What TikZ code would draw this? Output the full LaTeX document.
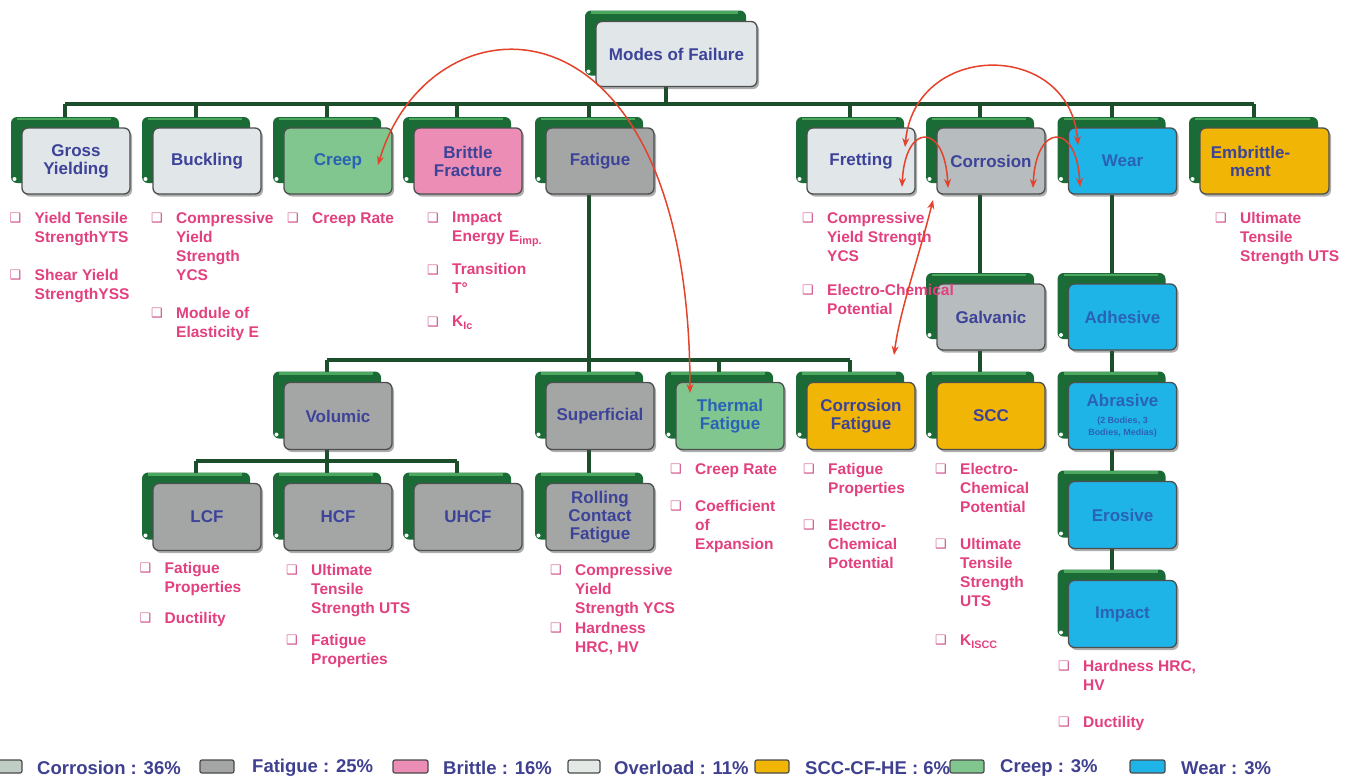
\documentclass[tikz,border=0pt]{standalone}
\usepackage{fontspec}
\setmainfont{Liberation Sans}
\newfontfamily\dejavu{DejaVu Sans}
\usetikzlibrary{arrows.meta,shadows}
\definecolor{backg}{HTML}{1A6B36}
\definecolor{backhi}{HTML}{4CA85E}
\definecolor{boxedge}{HTML}{4D4F4F}
\definecolor{lightbox}{HTML}{E1E6E9}
\definecolor{corrbox}{HTML}{B7BCBF}
\definecolor{fatbox}{HTML}{A4A6A6}
\definecolor{pinkbox}{HTML}{EC8DB6}
\definecolor{greenbox}{HTML}{80C68E}
\definecolor{cyanbox}{HTML}{1FB4E8}
\definecolor{yellowbox}{HTML}{F1B505}
\definecolor{labelblue}{HTML}{3C4399}
\definecolor{cyanlabel}{HTML}{2A62B6}
\definecolor{conngreen}{HTML}{1C4E2B}
\definecolor{bultext}{HTML}{E2407E}
\definecolor{bulbox}{HTML}{D0508A}
\definecolor{arrred}{HTML}{E4422B}
\definecolor{legtext}{HTML}{3F4190}
\definecolor{swedge}{HTML}{4A4A4A}
\definecolor{corrsw}{HTML}{BFCDC4}
\definecolor{lightsw}{HTML}{E3EAE6}
\pgfdeclarelayer{paper}
\pgfdeclarelayer{bg}
\pgfsetlayers{paper,bg,main}
\tikzset{
  mb/.style={draw=boxedge, line width=1.3pt, rounded corners=6pt, inner sep=2pt,
    align=center, font=\fontsize{17}{18}\selectfont\bfseries, text=labelblue,
    drop shadow={shadow xshift=2pt, shadow yshift=-2.5pt, opacity=0.45, fill=black!70}},
  conn/.style={draw=conngreen, line width=4pt},
  redarr/.style={draw=arrred, line width=1.5pt,
    {Stealth[length=9pt,width=7pt]}-{Stealth[length=9pt,width=7pt]}},
  bl/.style={anchor=north west, inner sep=0pt, align=left, text=bultext,
    font=\fontsize{15.5}{19}\selectfont\bfseries},
  leg/.style={anchor=west, inner sep=0pt, text=legtext,
    font=\fontsize{18.5}{20}\selectfont\bfseries},
  sw/.style={draw=swedge, line width=1.2pt, rounded corners=2pt},
}
% name, cx, cy, w, h, fill, label
\newcommand{\modebx}[7]{%
  \fill[backg, rounded corners=6pt] ({#2-#4/2-11},{#3-#5/2-11}) rectangle ({#2+#4/2-11},{#3+#5/2-11});
  \draw[backhi, line width=2.5pt] ({#2-#4/2-5},{#3-#5/2-9}) -- ({#2+#4/2-19},{#3-#5/2-9});
  \fill[white] ({#2-#4/2-7.5},{#3+#5/2-15}) circle (2pt);
  \node[mb, fill=#6, minimum width=#4pt, minimum height=#5pt] (#1) at (#2,#3) {#7};
}
\newcommand{\bi}{\makebox[25pt][l]{\raisebox{0.5pt}{\dejavu\fontsize{13}{13}\selectfont\color{bulbox}❑}}}
\newcommand{\ci}{\hspace*{25pt}}
\newcommand{\smalltx}{\fontsize{9}{10}\selectfont}
\begin{document}
\begin{tikzpicture}[x=1pt,y=-1pt]
\useasboundingbox (0,0) rectangle (1350,782);
\begin{pgfonlayer}{paper}
\fill[white] (0,0) rectangle (1350,782);
\end{pgfonlayer}

% ---------- boxes ----------
\modebx{mof}{676.5}{54}{161}{65}{lightbox}{Modes of Failure}
\modebx{gy}{76}{161}{108}{66}{lightbox}{Gross\\Yielding}
\modebx{buck}{207}{161}{108}{66}{lightbox}{Buckling}
\modebx{creep}{338}{161}{108}{66}{greenbox, text=cyanlabel}{Creep}
\modebx{brit}{468}{161}{108}{66}{pinkbox}{Brittle\\Fracture}
\modebx{fat}{600}{161}{108}{66}{fatbox}{Fatigue}
\modebx{fret}{861}{161}{108}{66}{lightbox}{Fretting}
\modebx{corr}{991}{161}{108}{66}{corrbox}{Corrosion}
\modebx{wear}{1122.5}{161}{108}{66}{cyanbox, text=cyanlabel}{Wear}
\modebx{emb}{1264.5}{161}{129}{66}{yellowbox}{\hspace*{-28pt}Embrittle-\\\hspace*{-28pt}ment}

\modebx{galv}{991}{317}{108}{66}{corrbox}{Galvanic}
\modebx{adh}{1122.5}{317}{108}{66}{cyanbox, text=cyanlabel}{Adhesive}

\modebx{vol}{338}{416}{108}{67}{fatbox}{Volumic}
\modebx{sup}{600}{416}{108}{67}{fatbox}{Superficial}
\modebx{thf}{730}{416}{108}{67}{greenbox, text=cyanlabel}{Thermal\\Fatigue}
\modebx{cf}{861}{416}{108}{67}{yellowbox}{Corrosion\\Fatigue}
\modebx{scc}{991}{416}{108}{67}{yellowbox}{SCC}
\modebx{abr}{1122.5}{416}{108}{67}{cyanbox, text=cyanlabel}{Abrasive\\[-1pt]\smalltx (2 Bodies, 3\\[-6pt]\smalltx Bodies, Medias)}

\modebx{lcf}{207}{517}{108}{67}{fatbox}{LCF}
\modebx{hcf}{338}{517}{108}{67}{fatbox}{HCF}
\modebx{uhcf}{468}{517}{108}{67}{fatbox}{UHCF}
\modebx{rcf}{600}{517}{108}{67}{fatbox}{Rolling\\Contact\\Fatigue}
\modebx{ero}{1122.5}{515}{108}{67}{cyanbox, text=cyanlabel}{Erosive}
\modebx{imp}{1122.5}{614}{108}{67}{cyanbox, text=cyanlabel}{Impact}

% ---------- connectors ----------
\begin{pgfonlayer}{bg}
\coordinate (topbar) at (0,104);
\coordinate (fbar) at (0,360);
\coordinate (vbar) at (0,461);
\draw[conn] ([xshift=-11pt]mof.south) -- ([xshift=-11pt]mof.south |- topbar);
\draw[conn] ([xshift=-11pt]gy.north |- topbar) -- ([xshift=-11pt]emb.north |- topbar);
\foreach \n in {gy,buck,creep,brit,fat,fret,corr,wear,emb}
  \draw[conn] ([xshift=-11pt]\n.north |- topbar) -- ([xshift=-11pt]\n.north);
\draw[conn] ([xshift=-11pt]fat.south) -- ([xshift=-11pt]fat.south |- fbar);
\draw[conn] ([xshift=-11pt]vol.north |- fbar) -- ([xshift=-11pt]cf.north |- fbar);
\foreach \n in {vol,sup,thf,cf}
  \draw[conn] ([xshift=-11pt]\n.north |- fbar) -- ([xshift=-11pt]\n.north);
\draw[conn] ([xshift=-11pt]vol.south) -- ([xshift=-11pt]vol.south |- vbar);
\draw[conn] ([xshift=-11pt]lcf.north |- vbar) -- ([xshift=-11pt]uhcf.north |- vbar);
\foreach \n in {lcf,hcf,uhcf}
  \draw[conn] ([xshift=-11pt]\n.north |- vbar) -- ([xshift=-11pt]\n.north);
\draw[conn] ([xshift=-11pt]sup.south) -- ([xshift=-11pt]rcf.north);
\draw[conn] ([xshift=-11pt]corr.south) -- ([xshift=-11pt]galv.north);
\draw[conn] ([xshift=-11pt]galv.south) -- ([xshift=-11pt]scc.north);
\draw[conn] ([xshift=-11pt]wear.south) -- ([xshift=-11pt]adh.north);
\draw[conn] ([xshift=-11pt]adh.south) -- ([xshift=-11pt]abr.north);
\draw[conn] ([xshift=-11pt]abr.south) -- ([xshift=-11pt]ero.north);
\draw[conn] ([xshift=-11pt]ero.south) -- ([xshift=-11pt]imp.north);
\end{pgfonlayer}

% ---------- property lists ----------
\node[bl] (gyb) at (9.5,212) {\bi Yield Tensile\\\ci StrengthYTS\\[19pt]\bi Shear Yield\\\ci StrengthYSS};
\node[bl] (buckb) at (151,212) {\bi Compressive\\\ci Yield\\\ci Strength\\\ci YCS\\[19pt]\bi Module of\\\ci Elasticity E};
\node[bl] (creepb) at (287,212) {\bi Creep Rate};
\node[bl] (britb) at (427,212) {\bi Impact\\\ci Energy E\textsubscript{imp.}\\[14pt]\bi Transition\\\ci T°\\[14pt]\bi K\textsubscript{Ic}};
\node[bl] (fretb) at (802,212) {\bi Compressive\\\ci Yield Strength\\\ci YCS\\[15pt]\bi Electro-Chemical\\\ci Potential};
\node[bl] (embb) at (1215,212) {\bi Ultimate\\\ci Tensile\\\ci Strength UTS};
\node[bl] (thfb) at (670,463) {\bi Creep Rate\\[18pt]\bi Coefficient\\\ci of\\\ci Expansion};
\node[bl] (cfb) at (803,463) {\bi Fatigue\\\ci Properties\\[18pt]\bi Electro-\\\ci Chemical\\\ci Potential};
\node[bl] (sccb) at (935,463) {\bi Electro-\\\ci Chemical\\\ci Potential\\[18pt]\bi Ultimate\\\ci Tensile\\\ci Strength\\\ci UTS\\[20pt]\bi K\textsubscript{ISCC}};
\node[bl] (lcfb) at (139.5,562) {\bi Fatigue\\\ci Properties\\[12pt]\bi Ductility};
\node[bl] (hcfb) at (286,564) {\bi Ultimate\\\ci Tensile\\\ci Strength UTS\\[13pt]\bi Fatigue\\\ci Properties};
\node[bl] (rcfb) at (550,564) {\bi Compressive\\\ci Yield\\\ci Strength YCS\\[1pt]\bi Hardness\\\ci HRC, HV};
\node[bl] (impb) at (1058,660) {\bi Hardness HRC,\\\ci HV\\[18pt]\bi Ductility};

% ---------- red relations ----------
\coordinate (r1a) at (378,165);
\coordinate (r1b) at (690,393);
\draw[redarr] (r1a) .. controls (430,-10) and (690,-20) .. (r1b);
\coordinate (r2a) at (905,147);
\coordinate (r2b) at (1078,145);
\draw[redarr] (r2a) .. controls (915,40) and (1070,40) .. (r2b);
\coordinate (r3a) at (902,187);
\coordinate (r3b) at (948,188);
\draw[redarr] (r3a) .. controls (905,122) and (945,122) .. (r3b);
\coordinate (r4a) at (1033,188);
\coordinate (r4b) at (1080,187);
\draw[redarr] (r4a) .. controls (1036,122) and (1077,122) .. (r4b);
\coordinate (r5a) at (933,200);
\coordinate (r5b) at (894,355);
\draw[redarr] (r5a) .. controls (918,260) and (900,310) .. (r5b);

% ---------- legend ----------
\fill[sw, fill=corrsw] (-12,760) rectangle (22,773);
\node[leg] (l1) at (37,768) {Corrosion : 36\%};
\fill[sw, fill=fatbox] (200,760) rectangle (234,773);
\node[leg] (l2) at (252,768) {Fatigue : 25\%};
\fill[sw, fill=pinkbox] (393,760) rectangle (428,773);
\node[leg] (l3) at (443,768) {Brittle : 16\%};
\fill[sw, fill=lightsw] (568,760) rectangle (600,773);
\node[leg] (l4) at (614,768) {Overload : 11\%};
\fill[sw, fill=yellowbox] (755,760) rectangle (789,773);
\node[leg] (l5) at (805,768) {SCC-CF-HE : 6\%};
\fill[sw, fill=greenbox] (950,760) rectangle (984,773);
\node[leg] (l6) at (1000,768) {Creep : 3\%};
\fill[sw, fill=cyanbox] (1130,760) rectangle (1165,773);
\node[leg] (l7) at (1181,768) {Wear : 3\%};
\end{tikzpicture}
\end{document}
